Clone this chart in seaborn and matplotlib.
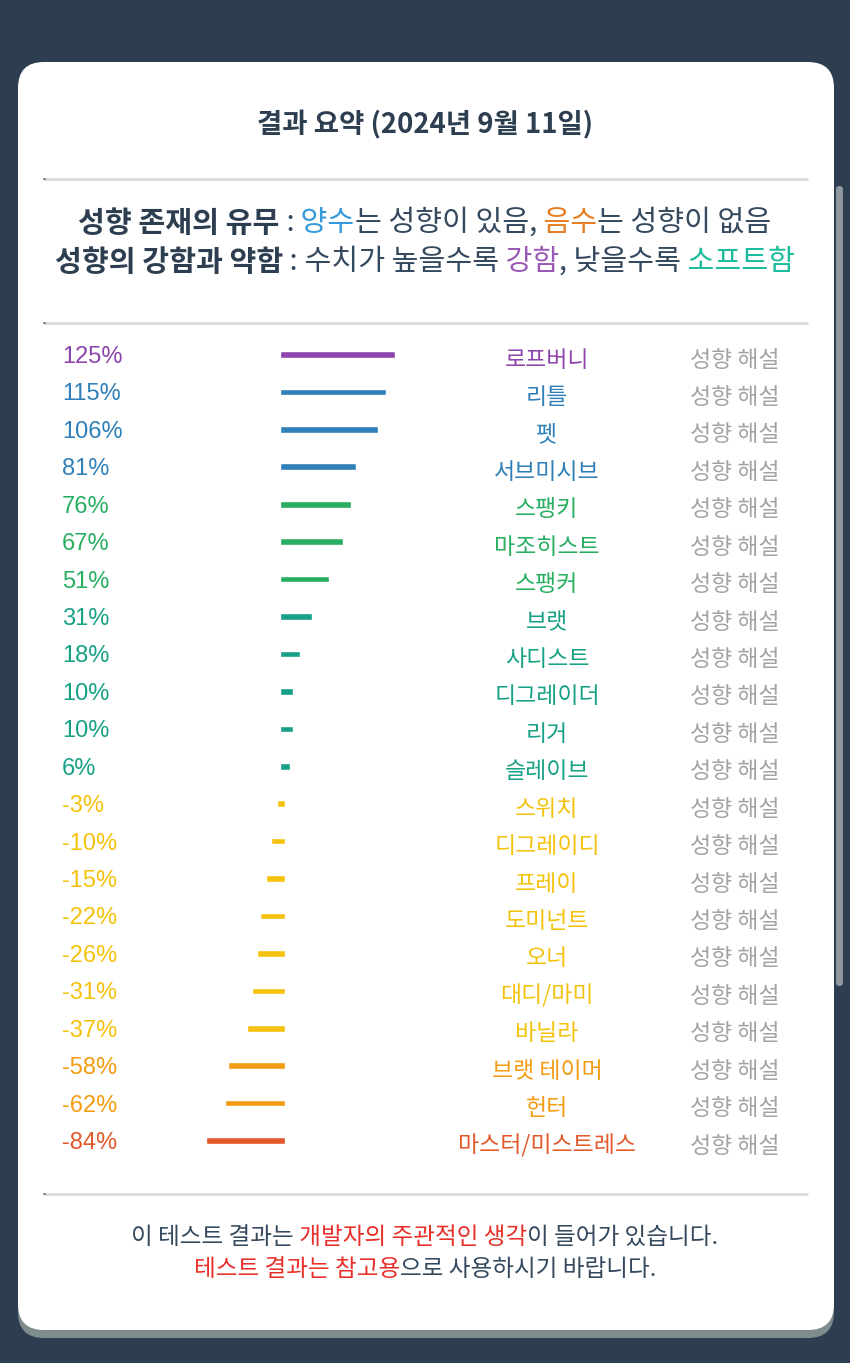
import numpy as np
import pandas as pd
import matplotlib
matplotlib.use("Agg")
import matplotlib.pyplot as plt
import seaborn as sns
from matplotlib.patches import FancyBboxPatch
from matplotlib import transforms

# ---------------- data ----------------
names = ["로프버니", "리틀", "펫", "서브미시브", "스팽키", "마조히스트", "스팽커", "브랫",
         "사디스트", "디그레이더", "리거", "슬레이브", "스위치", "디그레이디", "프레이",
         "도미넌트", "오너", "대디/마미", "바닐라", "브랫 테이머", "헌터", "마스터/미스트레스"]
values = [125, 115, 106, 81, 76, 67, 51, 31, 18, 10, 10, 6, -3, -10, -15, -22, -26,
          -31, -37, -58, -62, -84]
bar_colors = ["#8e44ad", "#2f7fb8", "#2f7fb8", "#2f7fb8", "#27ae60", "#27ae60", "#27ae60",
              "#16a085", "#16a085", "#16a085", "#16a085", "#16a085",
              "#f4c20d", "#f4c20d", "#f4c20d", "#f4c20d", "#f4c20d", "#f4c20d", "#f4c20d",
              "#f39c12", "#f39c12", "#e2582b"]
link_label = "성향 해설"
title_text = "결과 요약 (2024년 9월 11일)"
legend_line1 = [("성향 존재의 유무", "#2c3e50", "bold"), (" :", "#34495e", "normal"),
                (" 양수", "#3498db", "normal"), ("는 성향이 있음,", "#34495e", "normal"),
                (" 음수", "#e67e22", "normal"), ("는 성향이 없음", "#34495e", "normal")]
legend_line2 = [("성향의 강함과 약함", "#2c3e50", "bold"), (" :", "#34495e", "normal"),
                (" 수치가 높을수록", "#34495e", "normal"), (" 강함", "#9b59b6", "normal"),
                (", 낮을수록", "#34495e", "normal"), (" 소프트함", "#1abc9c", "normal")]
footer_line1 = [("이 테스트 결과는", "#34495e", "normal"),
                (" 개발자의 주관적인 생각", "#e8302a", "normal"),
                ("이 들어가 있습니다.", "#34495e", "normal")]
footer_line2 = [("테스트 결과는 참고용", "#e8302a", "normal"),
                ("으로 사용하시기 바랍니다.", "#34495e", "normal")]

# ---------------- style ----------------
sns.set_style("white")
plt.rcParams['font.family'] = ['Noto Sans CJK KR', 'DejaVu Sans']

W, H = 850, 1363
fig = plt.figure(figsize=(W / 100, H / 100), dpi=100)
fig.patch.set_facecolor("#2c3e50")

bg = fig.add_axes([0, 0, 1, 1])
bg.set_xlim(0, W)
bg.set_ylim(H, 0)
bg.axis('off')
bg.set_zorder(0)

# card shadow and card
bg.add_patch(FancyBboxPatch((18, 90), 816, 1248, boxstyle="round,pad=0,rounding_size=26",
                            fc="#7f8c8d", ec="none"))
bg.add_patch(FancyBboxPatch((18, 62), 816, 1268, boxstyle="round,pad=0,rounding_size=26",
                            fc="white", ec="none"))
# scrollbar
bg.add_patch(FancyBboxPatch((836, 186), 7, 800, boxstyle="round,pad=0,rounding_size=3.5",
                            fc="#8e989e", ec="none"))

# separators
for yy in (179, 323, 1194):
    bg.plot([44, 808], [yy, yy], color="#dcdcdc", lw=2.2, solid_capstyle='butt')
    bg.plot([44, 45.5], [yy, yy], color="#555555", lw=1.2)

renderer = fig.canvas.get_renderer()


def draw_segments(xc, y, segs, size):
    objs = []
    total = 0
    for s, c, wgt in segs:
        t = bg.text(0, y, s, color=c, fontweight=wgt, fontsize=size, va='center', ha='left')
        w = t.get_window_extent(renderer).width
        objs.append((t, w))
        total += w
    x = xc - total / 2
    for t, w in objs:
        t.set_x(x)
        x += w


bg.text(425, 125, title_text, fontsize=19.8, fontweight='bold', color="#2c3e50",
        ha='center', va='center')
draw_segments(425, 223, legend_line1, 21)
draw_segments(425, 262, legend_line2, 21)
draw_segments(425, 1237, footer_line1, 17)
draw_segments(425, 1270, footer_line2, 17)

# ---------------- bars ----------------
row0, row_step = 355, 37.43
zero_px, px_per = 282.5, 0.88
x_left, x_right = 44, 807
top_px = row0 - row_step / 2
bot_px = row0 + row_step * (len(names) - 1) + row_step / 2
ax = fig.add_axes([x_left / W, 1 - bot_px / H, (x_right - x_left) / W, (bot_px - top_px) / H])
ax.set_zorder(1)
ax.patch.set_alpha(0)

df = pd.DataFrame({"name": names, "value": values})
sns.barplot(data=df, x="value", y="name", hue="name", palette=dict(zip(names, bar_colors)),
            legend=False, width=1.6 / row_step, orient='h', ax=ax, linewidth=0,
            saturation=1)
for p in ax.patches:
    p.set_edgecolor(p.get_facecolor())
    p.set_linewidth(3.6 * 0.72)
    p.set_joinstyle('miter')
ax.set_xlim((x_left - zero_px) / px_per, (x_right - zero_px) / px_per)
ax.set_ylim(len(names) - 0.5, -0.5)
ax.axis('off')

trans = transforms.blended_transform_factory(bg.transData, ax.transData)
down2 = trans + transforms.ScaledTranslation(0, -2 / 100, fig.dpi_scale_trans)
down5 = trans + transforms.ScaledTranslation(0, -5 / 100, fig.dpi_scale_trans)
for i, (n, v, c) in enumerate(zip(names, values, bar_colors)):
    ax.text(62, i, f"{v}%", transform=down2, color=c, fontsize=17,
            family=['Liberation Sans', 'DejaVu Sans'], ha='left', va='center')
    ax.text(547, i, n, transform=down5, color=c, fontsize=16.5, ha='center', va='center')
    ax.text(735, i, link_label, transform=down5, color="#a3a3a3", fontsize=16.5,
            ha='center', va='center')

fig.savefig("out.png", dpi=100, facecolor=fig.get_facecolor())
